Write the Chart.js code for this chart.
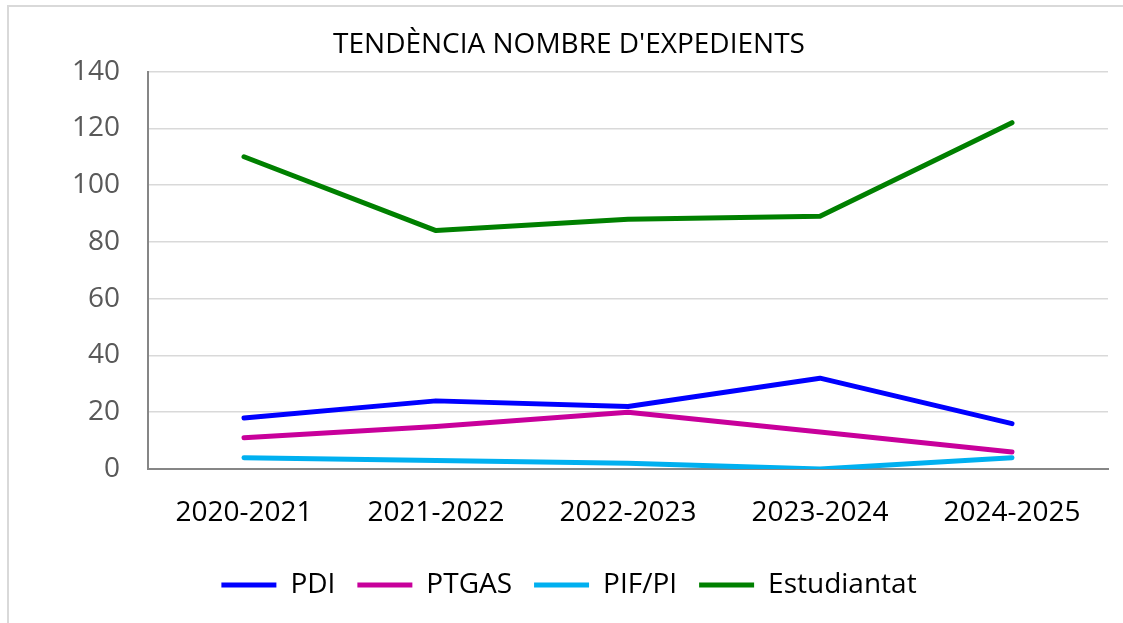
<!DOCTYPE html>
<html>
<head>
<meta charset="utf-8">
<script src="https://cdn.jsdelivr.net/npm/chart.js@4"></script>
<style>
  html, body { margin: 0; padding: 0; background: #fff; overflow: hidden; }
  #marc { position: absolute; left: 7px; top: 5px; width: 1130px; height: 630px;
          border-left: 2px solid #d9d9d9; border-top: 2px solid #d9d9d9; }
  #caixa { position: absolute; left: 0; top: 0; width: 1123px; height: 623px; }
</style>
</head>
<body>
<div id="marc"></div>
<div id="caixa"><canvas id="graficExpedients"></canvas></div>
<script>
const cursos = ['2020-2021', '2021-2022', '2022-2023', '2023-2024', '2024-2025'];
const pdi = [18, 24, 22, 32, 16];
const ptgas = [11, 15, 20, 13, 6];
const pifPi = [4, 3, 2, 0, 4];
const estudiantat = [110, 84, 88, 89, 122];

const lletra = '"Open Sans", sans-serif';

function serie(nom, valors, color) {
    return {
        label: nom,
        data: valors,
        borderColor: color,
        backgroundColor: color,
        borderWidth: 5,
        borderCapStyle: 'round',
        borderJoinStyle: 'round',
        pointRadius: 0,
        pointHoverRadius: 0,
        tension: 0
    };
}

const ctx = document.getElementById('graficExpedients');

new Chart(ctx, {
    type: 'line',
    data: {
        labels: cursos,
        datasets: [
            serie('PDI', pdi, '#0000ff'),
            serie('PTGAS', ptgas, '#c8009b'),
            serie('PIF/PI', pifPi, '#00b0f0'),
            serie('Estudiantat', estudiantat, '#008000')
        ]
    },
    options: {
        responsive: true,
        maintainAspectRatio: false,
        animation: false,
        layout: { padding: { top: 20, right: 15, bottom: 14, left: 30 } },
        plugins: {
            title: {
                display: true,
                text: "TENDÈNCIA NOMBRE D'EXPEDIENTS",
                color: '#000',
                font: { family: lletra, size: 28, weight: 'normal', lineHeight: 1.2 },
                padding: { top: 8, bottom: 10 }
            },
            legend: {
                position: 'bottom',
                labels: {
                    color: '#000',
                    font: { family: lletra, size: 28 },
                    usePointStyle: true,
                    pointStyle: 'line',
                    pointStyleWidth: 55,
                    boxHeight: 5,
                    padding: 22
                }
            },
            tooltip: { enabled: false }
        },
        scales: {
            x: {
                offset: true,
                grid: { display: false, drawTicks: false },
                border: { color: '#868686', width: 2 },
                ticks: { color: '#000', padding: 27, font: { family: lletra, size: 28 } },
                afterFit: s => { s.height = 80; }
            },
            y: {
                min: 0,
                max: 140,
                ticks: { stepSize: 20, color: '#595959', padding: 28, font: { family: lletra, size: 28 } },
                grid: { color: '#d9d9d9', lineWidth: 1.5, drawTicks: false },
                border: { color: '#868686', width: 2 },
                afterFit: s => { s.width = 118; }
            }
        }
    }
});
</script>
</body>
</html>
